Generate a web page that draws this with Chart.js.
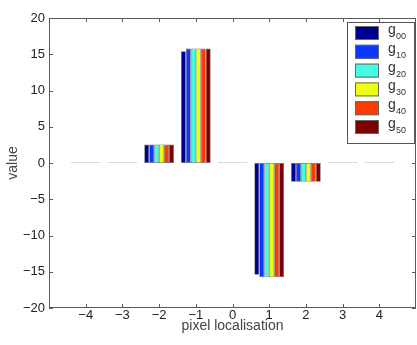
<!DOCTYPE html>
<html lang="en">
<head>
    <meta charset="UTF-8">
    <title>pixel localisation</title>
    <script src="https://cdn.jsdelivr.net/npm/chart.js"></script>
    <style>
        html, body { margin: 0; padding: 0; background: #fff; }
        #wrap { width: 417px; height: 345px; }
    </style>
</head>
<body>
    <div id="wrap"><canvas id="chart"></canvas></div>

    <script>
        // data
        const positions = [-4, -3, -2, -1, 0, 1, 2, 3, 4];
        const seriesNames = ['00', '10', '20', '30', '40', '50'];
        const seriesColors = ['#00008f', '#0a38ff', '#3ffee2', '#ecff14', '#ff3a00', '#7f0000'];
        const g00 = [0.08, 0.08, 2.55, 15.4, 0.08, -15.4, -2.6, 0.08, 0.08];
        const g10 = [0.08, 0.08, 2.55, 15.8, 0.08, -15.75, -2.6, 0.08, 0.08];
        const g20 = [0.08, 0.08, 2.55, 15.8, 0.08, -15.75, -2.6, 0.08, 0.08];
        const g30 = [0.08, 0.08, 2.55, 15.8, 0.08, -15.75, -2.6, 0.08, 0.08];
        const g40 = [0.08, 0.08, 2.55, 15.8, 0.08, -15.75, -2.6, 0.08, 0.08];
        const g50 = [0.08, 0.08, 2.55, 15.8, 0.08, -15.75, -2.6, 0.08, 0.08];
        const allSeries = [g00, g10, g20, g30, g40, g50];
        const yTicks = [-20, -15, -10, -5, 0, 5, 10, 15, 20];

        const FONT = "'Liberation Sans', Arial, Helvetica, sans-serif";
        const minus = v => (v < 0 ? '\u2212' + Math.abs(v) : String(v));

        // box round the plot with matlab style ticks pointing inwards
        const boxPlugin = {
            id: 'box',
            afterDatasetsDraw(chart) {
                const { ctx, chartArea: a, scales } = chart;
                ctx.save();
                ctx.strokeStyle = '#5a5a5a';
                ctx.lineWidth = 1;
                ctx.strokeRect(a.left + 0.5, a.top + 0.5, a.right - a.left - 1, a.bottom - a.top - 1);
                ctx.beginPath();
                positions.forEach(p => {
                    const x = Math.round(scales.x.getPixelForValue(p)) + 0.5;
                    ctx.moveTo(x, a.bottom); ctx.lineTo(x, a.bottom - 4);
                    ctx.moveTo(x, a.top); ctx.lineTo(x, a.top + 4);
                });
                yTicks.forEach(v => {
                    const y = Math.round(scales.y.getPixelForValue(v)) + 0.5;
                    ctx.moveTo(a.left, y); ctx.lineTo(a.left + 4, y);
                    ctx.moveTo(a.right, y); ctx.lineTo(a.right - 4, y);
                });
                ctx.stroke();
                ctx.restore();
            }
        };

        // legend box with subscripted names
        const legendPlugin = {
            id: 'gLegend',
            afterDraw(chart) {
                const ctx = chart.ctx;
                const left = 347, top = 22, w = 67, h = 121;
                ctx.save();
                ctx.fillStyle = '#fff';
                ctx.fillRect(left, top, w, h);
                ctx.strokeStyle = '#555';
                ctx.lineWidth = 1;
                ctx.strokeRect(left + 0.5, top + 0.5, w, h);
                seriesNames.forEach((name, i) => {
                    const cy = top + 11 + i * 18.8;
                    ctx.fillStyle = seriesColors[i];
                    ctx.fillRect(left + 8, cy - 7, 24, 14);
                    ctx.strokeStyle = '#666';
                    ctx.strokeRect(left + 8.5, cy - 6.5, 23, 13);
                    ctx.fillStyle = '#333';
                    ctx.textBaseline = 'alphabetic';
                    ctx.font = '14px ' + FONT;
                    ctx.fillText('g', left + 41, cy + 1);
                    ctx.font = '9px ' + FONT;
                    ctx.fillText(name, left + 49, cy + 6);
                });
                ctx.restore();
            }
        };

        const datasets = allSeries.map((vals, i) => ({
            label: 'g' + seriesNames[i],
            data: positions.map((p, j) => ({ x: p, y: vals[j] })),
            backgroundColor: seriesColors[i],
            borderColor: '#666',
            borderWidth: 0.7,
            borderSkipped: false,
            barPercentage: 1,
            categoryPercentage: 0.81
        }));

        new Chart(document.getElementById('chart'), {
            type: 'bar',
            data: { datasets: datasets },
            options: {
                responsive: true,
                maintainAspectRatio: false,
                animation: false,
                layout: { padding: { top: 18, right: 1, left: 0, bottom: 0 } },
                plugins: { legend: { display: false }, tooltip: { enabled: false } },
                scales: {
                    x: {
                        type: 'linear',
                        min: -5,
                        max: 5,
                        offset: false,
                        grid: { display: false, drawTicks: false },
                        border: { display: false },
                        afterFit: s => { s.height = 37; },
                        afterBuildTicks: s => { s.ticks = positions.map(v => ({ value: v })); },
                        ticks: {
                            autoSkip: false,
                            maxRotation: 0,
                            padding: 0,
                            color: '#222',
                            font: { family: FONT, size: 13 },
                            callback: v => minus(v)
                        },
                        title: {
                            display: true,
                            text: 'pixel localisation',
                            color: '#444',
                            font: { family: FONT, size: 14 },
                            padding: { top: 0, bottom: 10 }
                        }
                    },
                    y: {
                        min: -20,
                        max: 20,
                        grid: { display: false, drawTicks: false },
                        border: { display: false },
                        afterFit: s => { s.width = 49; },
                        afterBuildTicks: s => { s.ticks = yTicks.map(v => ({ value: v })); },
                        ticks: {
                            padding: 4,
                            color: '#222',
                            font: { family: FONT, size: 13 },
                            callback: v => minus(v)
                        },
                        title: {
                            display: true,
                            text: 'value',
                            color: '#444',
                            font: { family: FONT, size: 14 },
                            padding: { top: 5, bottom: 0 }
                        }
                    }
                }
            },
            plugins: [boxPlugin, legendPlugin]
        });
    </script>
</body>
</html>
